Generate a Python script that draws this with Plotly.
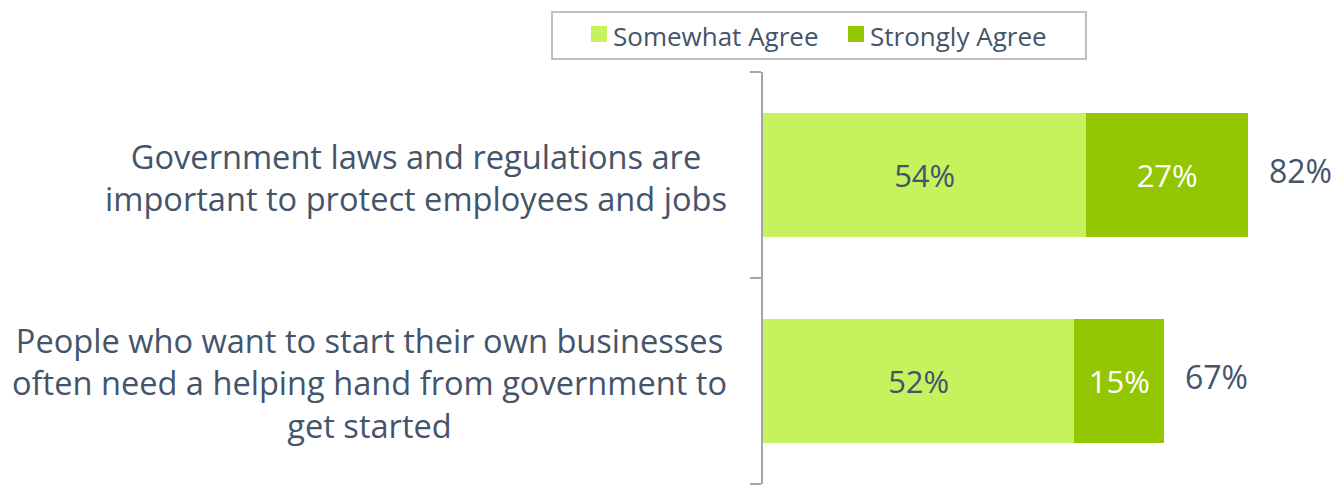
import plotly.graph_objects as go

# Survey statements and agreement shares (percent)
statements = [
    "People who want to start their own businesses<br>often need a helping hand from government to<br>get started",
    "Government laws and regulations are<br>important to protect employees and jobs",
]
somewhat_agree = [52, 54]
strongly_agree = [15, 27]
total_agree = [67, 82]
series_names = ["Somewhat Agree", "Strongly Agree"]

LIGHT = "#C6F25E"
DARK = "#92C600"
TEXT = "#44546A"
FONT = "Open Sans"

W, H = 1342, 491
M_L, M_R, M_T, M_B = 763, 0, 72, 7
PW, PH = W - M_L - M_R, H - M_T - M_B


def px_x(px):
    return (px - M_L) / PW


def px_y(py):
    return 1 - (py - M_T) / PH


positions = [0.5, 1.5]

fig = go.Figure()

fig.add_trace(go.Bar(
    y=positions, x=somewhat_agree, orientation="h", width=0.6, name=series_names[0],
    marker=dict(color=LIGHT, line=dict(width=0)),
    text=[f"{v}%" for v in somewhat_agree], textposition="inside",
    insidetextanchor="middle", textfont=dict(color=TEXT, size=31, family=FONT),
    hoverinfo="skip",
))
fig.add_trace(go.Bar(
    y=positions, x=strongly_agree, orientation="h", width=0.6, name=series_names[1],
    marker=dict(color=DARK, line=dict(width=0)),
    text=[f"{v}%" for v in strongly_agree], textposition="inside",
    insidetextanchor="middle", textfont=dict(color="white", size=31, family=FONT),
    hoverinfo="skip",
))

# Boxed legend above the bars
fig.add_shape(type="rect", xref="paper", yref="paper",
              x0=px_x(552), x1=px_x(1086), y0=px_y(59), y1=px_y(12),
              line=dict(color="#BFBFBF", width=2), fillcolor="white")
for name, col, sx in zip(series_names, [LIGHT, DARK], [591, 848]):
    fig.add_shape(type="rect", xref="paper", yref="paper",
                  x0=px_x(sx), x1=px_x(sx + 16), y0=px_y(42), y1=px_y(26),
                  line=dict(width=0), fillcolor=col)
    fig.add_annotation(xref="paper", yref="paper", x=px_x(sx + 20), y=px_y(36),
                       xanchor="left", yanchor="middle", text=name, showarrow=False,
                       font=dict(size=26, color=TEXT, family=FONT))

# Category labels, lines centred, block right-aligned next to the axis
for pos, label in zip(positions, statements):
    fig.add_annotation(
        xref="paper", yref="y", x=0, y=pos, xanchor="right", yanchor="middle",
        xshift=-34, yshift=-2, text=label, showarrow=False, align="center",
        font=dict(size=32.6, color=TEXT, family=FONT),
    )

# Totals to the right of each stacked bar
for pos, a, b, t in zip(positions, somewhat_agree, strongly_agree, total_agree):
    fig.add_annotation(
        xref="x", yref="y", x=a + b, y=pos, xanchor="left", yanchor="middle",
        xshift=19, yshift=5, text=f"{t}%", showarrow=False,
        font=dict(size=32, color=TEXT, family=FONT),
    )

fig.update_layout(
    width=W, height=H,
    margin=dict(l=M_L, r=M_R, t=M_T, b=M_B),
    barmode="stack",
    paper_bgcolor="white", plot_bgcolor="white",
    font=dict(family=FONT, color=TEXT),
    xaxis=dict(range=[0, 96.7], visible=False, fixedrange=True),
    yaxis=dict(
        range=[0, 2], tickvals=[0, 1, 2], showticklabels=False,
        ticks="outside", ticklen=11, tickwidth=2, tickcolor="#A3A6A9",
        showline=True, linecolor="#A3A6A9", linewidth=2,
        showgrid=False, zeroline=False, fixedrange=True,
    ),
    showlegend=False,
)

fig.write_html("out.html")
